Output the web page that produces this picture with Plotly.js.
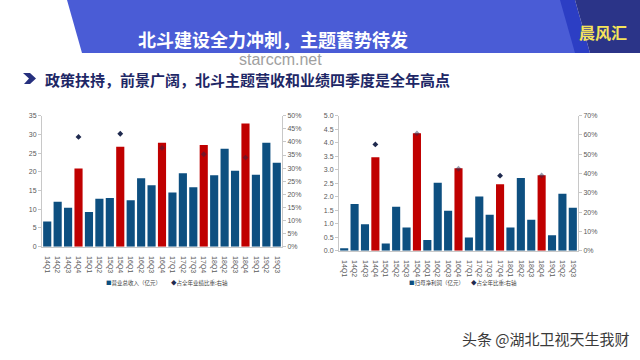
<!DOCTYPE html>
<html><head><meta charset="utf-8">
<script src="https://cdn.plot.ly/plotly-3.0.1.min.js"></script>
<style>html,body{margin:0;padding:0;background:#fff;}#chart{width:640px;height:360px;}</style>
</head><body><div id="chart"></div>
<script>
const quarters = ["14Q1","14Q2","14Q3","14Q4","15Q1","15Q2","15Q3","15Q4","16Q1","16Q2","16Q3","16Q4","17Q1","17Q2","17Q3","17Q4","18Q1","18Q2","18Q3","18Q4","19Q1","19Q2","19Q3"];
const revenue = [6.7,12.0,10.4,20.9,9.3,12.8,13.0,26.7,12.4,18.3,16.4,27.8,14.5,19.6,15.9,27.2,19.1,26.2,20.3,32.9,19.2,27.8,22.4];
const revenueShare = [null,null,null,0.419,null,null,null,0.431,null,null,null,0.377,null,null,null,0.353,null,null,null,0.340,null,null,null];
const profit = [0.09,1.73,0.98,3.46,0.27,1.63,0.86,4.35,0.40,2.52,1.48,3.05,0.49,2.01,1.33,2.46,0.86,2.69,1.15,2.79,0.57,2.11,1.59];
const profitShare = [null,null,null,0.551,null,null,null,0.608,null,null,null,0.425,null,null,null,0.389,null,null,null,0.390,null,null,null];

const BLUE = "#0d4f80", RED = "#c00000", DOT = "#1f2a4f";
const barColors = quarters.map(q => q.endsWith("Q4") ? RED : BLUE);
function dotOpacity(share, vals, lmax, rmax){
  return share.map((s,i)=> s==null?1:((s/rmax*lmax) < vals[i] ? 0.45 : 1));
}
const X = px => px/640, Y = py => 1 - py/360;
const FONT = "Liberation Sans, Arial, sans-serif";
const CJK = "Noto Sans CJK SC, sans-serif";

const traces = [
  {type:"bar", x:quarters, y:revenue, marker:{color:barColors}, xaxis:"x", yaxis:"y", name:"营业总收入（亿元）", hoverinfo:"none"},
  {type:"scatter", mode:"markers", x:quarters, y:revenueShare, xaxis:"x", yaxis:"y2", name:"占全年业绩比重:右轴",
   marker:{symbol:"diamond", size:4.5, color:DOT, opacity:dotOpacity(revenueShare, revenue, 35, 0.5)}, hoverinfo:"none"},
  {type:"bar", x:quarters, y:profit, marker:{color:barColors}, xaxis:"x2", yaxis:"y3", name:"归母净利润（亿元）", hoverinfo:"none"},
  {type:"scatter", mode:"markers", x:quarters, y:profitShare, xaxis:"x2", yaxis:"y4", name:"占全年比重:右轴",
   marker:{symbol:"diamond", size:4.5, color:DOT, opacity:dotOpacity(profitShare, profit, 5, 0.7)}, hoverinfo:"none"}
];

const tickF = {family:FONT, size:7, color:"#595959"};
const axBase = {showgrid:false, zeroline:false, showline:true, linecolor:"#c8c8c8", linewidth:1, ticks:"outside", ticklen:3, tickcolor:"#c8c8c8", tickfont:tickF, fixedrange:true};
const xBase = Object.assign({}, axBase, {type:"category", tickangle:90, ticks:"", ticklabelstandoff:7, range:[-0.5,22.5]});

const layout = {
  width:640, height:360, margin:{l:0,r:0,t:0,b:0},
  paper_bgcolor:"#ffffff", plot_bgcolor:"rgba(0,0,0,0)",
  showlegend:false, bargap:0.22,
  xaxis:Object.assign({}, xBase, {domain:[X(42),X(282)], anchor:"y"}),
  yaxis:Object.assign({}, axBase, {domain:[Y(246.7),Y(115.7)], range:[0,35], dtick:5, anchor:"x"}),
  yaxis2:Object.assign({}, axBase, {overlaying:"y", side:"right", range:[0,0.5], dtick:0.05, tickformat:".0%", anchor:"x"}),
  xaxis2:Object.assign({}, xBase, {domain:[X(339),X(578)], anchor:"y3"}),
  yaxis3:Object.assign({}, axBase, {domain:[Y(250.7),Y(115.7)], range:[0,5], dtick:0.5, tickformat:".1f", anchor:"x2"}),
  yaxis4:Object.assign({}, axBase, {overlaying:"y3", side:"right", range:[0,0.7], dtick:0.1, tickformat:".0%", anchor:"x2"}),
  shapes:[
    {type:"path", xref:"paper", yref:"paper", layer:"below", line:{width:0}, fillcolor:"#4a5cd6",
     path:`M ${X(67)},${Y(0)} L ${X(562)},${Y(0)} L ${X(577)},${Y(53)} L ${X(82)},${Y(53)} Z`},
    {type:"path", xref:"paper", yref:"paper", layer:"below", line:{width:0}, fillcolor:"#2c3ec4",
     path:`M ${X(560)},${Y(0)} L ${X(575)},${Y(0)} L ${X(590)},${Y(53)} L ${X(575)},${Y(53)} Z`},
    {type:"path", xref:"paper", yref:"paper", layer:"below", line:{width:0}, fillcolor:"#2b3488",
     path:`M ${X(575)},${Y(0)} L ${X(640)},${Y(0)} L ${X(640)},${Y(53)} L ${X(590)},${Y(53)} Z`},
    {type:"path", xref:"paper", yref:"paper", layer:"below", line:{width:0}, fillcolor:"#26307e",
     path:`M ${X(23)},${Y(73)} L ${X(30)},${Y(73)} L ${X(36)},${Y(78.5)} L ${X(30)},${Y(84)} L ${X(24)},${Y(84)} L ${X(29)},${Y(78.5)} Z`}
  ],
  annotations:[
    {xref:"paper", yref:"paper", x:X(273), y:Y(39), xanchor:"center", yanchor:"middle", showarrow:false,
     text:"<b>北斗建设全力冲刺，主题蓄势待发</b>", font:{family:CJK, size:18, color:"#ffffff"}},
    {xref:"paper", yref:"paper", x:X(603), y:Y(32), xanchor:"center", yanchor:"middle", showarrow:false,
     text:"<b>晨风汇</b>", font:{family:CJK, size:16, color:"#f5e35a"}},
    {xref:"paper", yref:"paper", x:X(280), y:Y(60), xanchor:"center", yanchor:"middle", showarrow:false,
     text:"starccm.net", font:{family:FONT, size:16, color:"#a0a0a0"}},
    {xref:"paper", yref:"paper", x:X(43), y:Y(79), xanchor:"left", yanchor:"middle", showarrow:false,
     text:"<b>政策扶持，前景广阔，北斗主题营收和业绩四季度是全年高点</b>", font:{family:CJK, size:15, color:"#1e2766"}},
    {xref:"paper", yref:"paper", x:X(104), y:Y(283), xanchor:"left", yanchor:"middle", showarrow:false,
     text:`<span style="color:${BLUE}">■</span>营业总收入（亿元）`, font:{family:CJK, size:5.5, color:"#404040"}},
    {xref:"paper", yref:"paper", x:X(169), y:Y(283), xanchor:"left", yanchor:"middle", showarrow:false,
     text:`<span style="color:${DOT}">◆</span>占全年业绩比重:右轴`, font:{family:CJK, size:5.5, color:"#404040"}},
    {xref:"paper", yref:"paper", x:X(407), y:Y(283), xanchor:"left", yanchor:"middle", showarrow:false,
     text:`<span style="color:${BLUE}">■</span>归母净利润（亿元）`, font:{family:CJK, size:5.5, color:"#404040"}},
    {xref:"paper", yref:"paper", x:X(469), y:Y(283), xanchor:"left", yanchor:"middle", showarrow:false,
     text:`<span style="color:${DOT}">◆</span>占全年比重:右轴`, font:{family:CJK, size:5.5, color:"#404040"}},
    {xref:"paper", yref:"paper", x:X(632), y:Y(338), xanchor:"right", yanchor:"middle", showarrow:false,
     text:"头条 @湖北卫视天生我财", font:{family:CJK, size:15, color:"#3a3a3a"}}
  ]
};
Plotly.newPlot("chart", traces, layout, {staticPlot:true, displayModeBar:false});
</script></body></html>
